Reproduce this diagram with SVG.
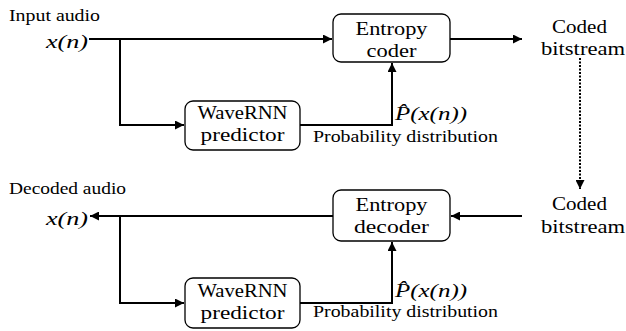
<svg xmlns="http://www.w3.org/2000/svg" width="626" height="331" viewBox="0 0 626 331">
<style>
.t{font-family:"Liberation Serif","Times New Roman",serif;fill:#000}
.box{font-size:19px}
.lab{font-size:16px}
.m{font-family:"Liberation Serif","Times New Roman",serif;font-style:italic;font-size:19px}
.n rect{fill:#fff;stroke:#000;stroke-width:1.3}
.c path{fill:none;stroke:#000;stroke-width:2}
</style>
<defs>
<marker id="ah2" viewBox="0 0 10 10" refX="10" refY="5" markerWidth="9" markerHeight="9" orient="auto" markerUnits="userSpaceOnUse">
<path d="M0,0L10,5L0,10z" fill="#000"/>
</marker>
</defs>
<g class="c">
<path d="M89,39H332" marker-end="url(#ah2)"/>
<path d="M120,39V125H184" marker-end="url(#ah2)"/>
<path d="M300,125H392V63" marker-end="url(#ah2)"/>
<path d="M450,39H522" marker-end="url(#ah2)"/>
<path d="M580,58V189" stroke-dasharray="2,1.5" marker-end="url(#ah2)"/>
<path d="M333,216H90" marker-end="url(#ah2)"/>
<path d="M120,216V303H184" marker-end="url(#ah2)"/>
<path d="M300,303H392V242" marker-end="url(#ah2)"/>
<path d="M522,216H451" marker-end="url(#ah2)"/>
</g>
<g id="enc" class="n">
<rect x="333" y="14" width="117" height="48" rx="8"/>
<text class="t box" x="391.5" y="35" text-anchor="middle" textLength="72" lengthAdjust="spacingAndGlyphs">Entropy</text>
<text class="t box" x="391.5" y="57" text-anchor="middle" textLength="50" lengthAdjust="spacingAndGlyphs">coder</text>
</g>
<g id="pred1" class="n">
<rect x="185" y="101" width="115" height="49" rx="8"/>
<text class="t box" x="242.5" y="119" text-anchor="middle" textLength="90" lengthAdjust="spacingAndGlyphs">WaveRNN</text>
<text class="t box" x="242.5" y="141" text-anchor="middle" textLength="84" lengthAdjust="spacingAndGlyphs">predictor</text>
</g>
<g id="dec" class="n">
<rect x="333" y="190" width="117" height="51" rx="8"/>
<text class="t box" x="391.5" y="211" text-anchor="middle" textLength="72" lengthAdjust="spacingAndGlyphs">Entropy</text>
<text class="t box" x="391.5" y="233" text-anchor="middle" textLength="75" lengthAdjust="spacingAndGlyphs">decoder</text>
</g>
<g id="pred2" class="n">
<rect x="185" y="278" width="115" height="50" rx="8"/>
<text class="t box" x="242.5" y="297" text-anchor="middle" textLength="90" lengthAdjust="spacingAndGlyphs">WaveRNN</text>
<text class="t box" x="242.5" y="319" text-anchor="middle" textLength="84" lengthAdjust="spacingAndGlyphs">predictor</text>
</g>
<g id="labels">
<text class="t lab" x="9" y="20.5" textLength="91" lengthAdjust="spacingAndGlyphs">Input audio</text>
<text class="m" x="46" y="48" textLength="42" lengthAdjust="spacingAndGlyphs">x(n)</text>
<text class="t box" x="579.5" y="33" text-anchor="middle" textLength="55" lengthAdjust="spacingAndGlyphs">Coded</text>
<text class="t box" x="583" y="55" text-anchor="middle" textLength="84" lengthAdjust="spacingAndGlyphs">bitstream</text>
<text class="m" x="395" y="120" textLength="72" lengthAdjust="spacingAndGlyphs">P̂(x(n))</text>
<text class="t lab" x="313" y="141.5" textLength="185" lengthAdjust="spacingAndGlyphs">Probability distribution</text>
<text class="t lab" x="9" y="194" textLength="117" lengthAdjust="spacingAndGlyphs">Decoded audio</text>
<text class="m" x="46" y="225" textLength="42" lengthAdjust="spacingAndGlyphs">x(n)</text>
<text class="t box" x="579.5" y="210" text-anchor="middle" textLength="55" lengthAdjust="spacingAndGlyphs">Coded</text>
<text class="t box" x="583" y="233" text-anchor="middle" textLength="84" lengthAdjust="spacingAndGlyphs">bitstream</text>
<text class="m" x="395" y="297" textLength="72" lengthAdjust="spacingAndGlyphs">P̂(x(n))</text>
<text class="t lab" x="313" y="316.5" textLength="185" lengthAdjust="spacingAndGlyphs">Probability distribution</text>
</g>
</svg>
